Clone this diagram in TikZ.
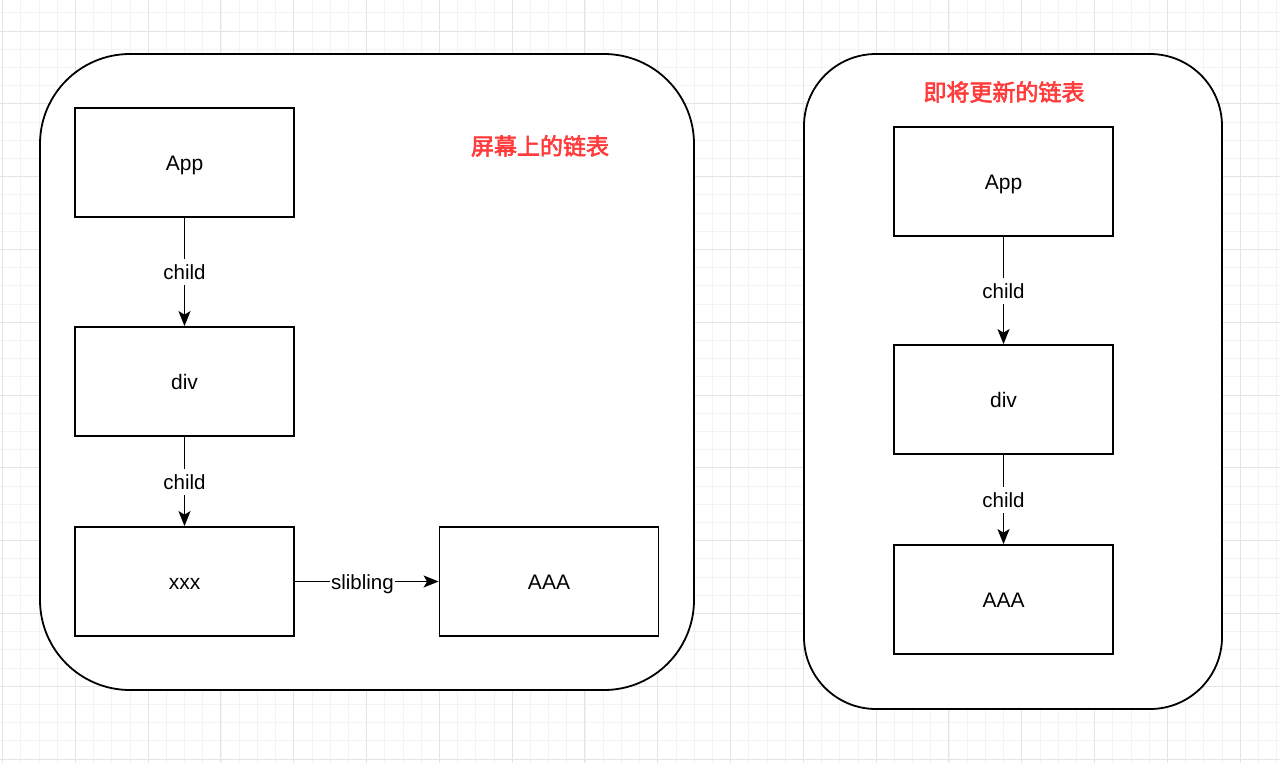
\documentclass[tikz,border=0pt]{standalone}
\usepackage{fontspec}
\setmainfont{Liberation Sans}
\newfontfamily\cjk{Noto Sans CJK SC}[AutoFakeBold=2.5]
\usetikzlibrary{arrows.meta}
\definecolor{titlered}{HTML}{FF3B3B}
\definecolor{gridminor}{HTML}{F3F3F3}
\definecolor{gridmajor}{HTML}{E4E4E4}
\tikzset{
  frame/.style={draw=black, line width=1.8pt, fill=white},
  listbox/.style={draw=black, line width=1.8pt, fill=white, minimum width=219pt, minimum height=109pt, inner sep=0pt, text height=20pt, text depth=4pt, font=\fontsize{21}{25}\selectfont},
  link/.style={draw=black, line width=1.7pt, -{Stealth[length=15pt,width=12pt,inset=3.5pt]}},
  linklabel/.style={fill=white, inner sep=1.5pt, text height=19pt, text depth=4pt, font=\fontsize{20.5}{24}\selectfont},
  title/.style={text=titlered, font=\cjk\bfseries\fontsize{23}{28}\selectfont}
}
\begin{document}
\begin{tikzpicture}[x=1pt,y=-1pt]
\useasboundingbox (0,0) rectangle (1280,763);
\fill[white] (0,0) rectangle (1280,763);
% grid
\begin{scope}
\clip (0,0) rectangle (1280,763);
\foreach \i in {0,...,72} {
  \draw[gridminor, line width=0.8pt] ({2.5+18.2*\i},0) -- ({2.5+18.2*\i},763);
}
\foreach \i in {-2,...,40} {
  \draw[gridminor, line width=0.8pt] (0,{31+18.2*\i}) -- (1280,{31+18.2*\i});
}
\foreach \i in {0,...,18} {
  \draw[gridmajor, line width=1pt] ({2.5+72.8*\i},0) -- ({2.5+72.8*\i},763);
}
\foreach \i in {-1,...,10} {
  \draw[gridmajor, line width=1pt] (0,{31+72.8*\i}) -- (1280,{31+72.8*\i});
}
\end{scope}
% containers
\draw[frame, rounded corners=90pt] (40,54) rectangle (694,690);
\draw[frame, rounded corners=72pt] (804,54) rectangle (1222,709);
% titles
\node[title] (t1) at (540,146) {屏幕上的链表};
\node[title] (t2) at (1004,92) {即将更新的链表};
% left list
\node[listbox] (app1) at (184.5,162.5) {App};
\node[listbox] (div1) at (184.5,381.5) {div};
\node[listbox] (xxx1) at (184.5,581.5) {xxx};
\node[listbox] (aaa1) at (549,581.5) {AAA};
\draw[link] (app1) -- node[linklabel] {child} (div1);
\draw[link] (div1) -- node[linklabel] {child} (xxx1);
\draw[link] (xxx1) -- node[linklabel, pos=0.47] {slibling} (aaa1);
% right list
\node[listbox] (app2) at (1003.5,181.5) {App};
\node[listbox] (div2) at (1003.5,399.5) {div};
\node[listbox] (aaa2) at (1003.5,599.5) {AAA};
\draw[link] (app2) -- node[linklabel] {child} (div2);
\draw[link] (div2) -- node[linklabel] {child} (aaa2);
\end{tikzpicture}
\end{document}
